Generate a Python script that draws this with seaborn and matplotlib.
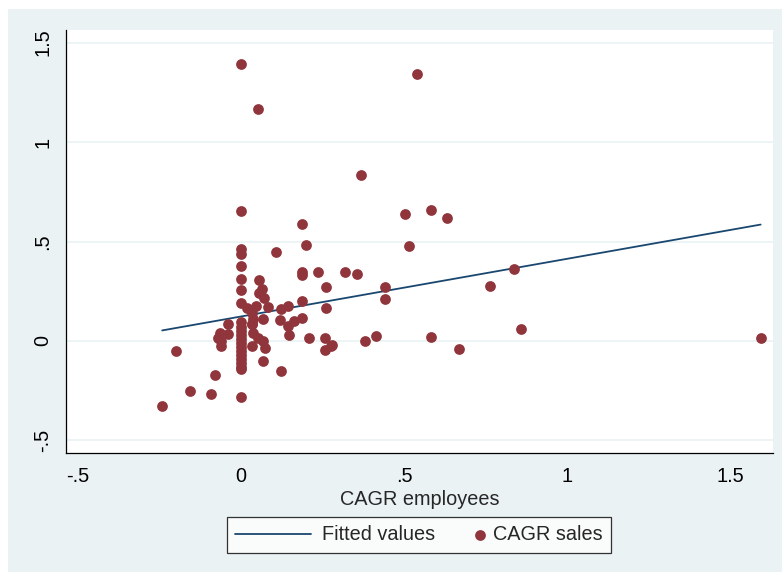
import numpy as np
import pandas as pd
import matplotlib
matplotlib.use("Agg")
import matplotlib.pyplot as plt
import seaborn as sns
from matplotlib.patches import Rectangle
from matplotlib.legend_handler import HandlerLine2D, HandlerPathCollection
from matplotlib.collections import PathCollection
from matplotlib.lines import Line2D

# CAGR employees (x) and CAGR sales (y)
emp = [0.0, 0.051, 0.541, 0.0, 0.188, 0.367, 0.502, 0.584, 0.632,
       0.318, 0.357, 0.515, 0.441, 0.441, 0.765, 0.836, 0.859, 0.379,
       0.414, 0.584, 0.670, 0.280, 1.594,
       0.2, 0.107, 0.0, 0.0, 0.0, 0.0, 0.0, 0.0,
       0.056, 0.064, 0.056, 0.069, 0.046, 0.084, 0.017, 0.033, 0.038, 0.067,
       0.123, 0.145, 0.12, 0.164, 0.188, 0.143, 0.148, 0.21,
       0.188, 0.188, 0.236, 0.26, 0.186, 0.26, 0.259, 0.276, 0.259,
       0.122, 0.068, 0.033, -0.039, -0.065, -0.07, -0.06, -0.06, -0.039,
       0.0, 0.0, 0.0, 0.0, 0.0, 0.0, 0.0, 0.0, 0.0, 0.0, 0.0, 0.0, 0.0, 0.0,
       0.033, 0.038, 0.053, 0.068, 0.074, 0.033,
       -0.198, -0.08, -0.157, -0.093, -0.242]
sales = [1.39, 1.168, 1.341, 0.652, 0.589, 0.833, 0.636, 0.656, 0.619,
         0.348, 0.336, 0.475, 0.272, 0.209, 0.277, 0.361, 0.059, 0.001,
         0.026, 0.018, -0.038, -0.021, 0.016,
         0.48, 0.446, 0.46, 0.435, 0.379, 0.314, 0.255, 0.19,
         0.306, 0.262, 0.242, 0.217, 0.178, 0.172, 0.167, 0.142, 0.112, 0.108,
         0.163, 0.178, 0.103, 0.101, 0.117, 0.074, 0.029, 0.014,
         0.348, 0.334, 0.348, 0.272, 0.2, 0.165, 0.016, -0.023, -0.046,
         -0.152, -0.101, 0.083, 0.086, 0.041, 0.016, 0.0, -0.026, 0.033,
         0.093, 0.07, 0.05, 0.03, 0.01, -0.01, -0.03, -0.05, -0.07, -0.09,
         -0.11, -0.13, -0.143, -0.282,
         -0.026, 0.041, 0.016, 0.0, -0.034, 0.083,
         -0.051, -0.172, -0.252, -0.264, -0.328]

# fitted line end points
fit_x = [-0.242, 1.594]
fit_y = [0.053, 0.585]

ticks = [-0.5, 0, 0.5, 1, 1.5]
tick_labels = ["-.5", "0", ".5", "1", "1.5"]

df = pd.DataFrame({"emp": emp, "sales": sales})
fit = pd.DataFrame({"x": fit_x, "y": fit_y})

sns.set_style("white")
plt.rcParams["font.family"] = ["Liberation Sans", "DejaVu Sans"]
FS = 14.3


class LongLine(HandlerLine2D):
    # longer handle for the fitted line only
    def legend_artist(self, legend, orig_handle, fontsize, handlebox):
        handlebox.width = 3.8 * fontsize
        return super().legend_artist(legend, orig_handle, fontsize, handlebox)


class RightDot(HandlerPathCollection):
    # dot sits at the right end of its handle box
    def get_xdata(self, legend, xdescent, ydescent, width, height, fontsize):
        x = [-xdescent + width - 2]
        return x, x


bg = "#EAF2F3"
fig = plt.figure(figsize=(7.82, 5.72), dpi=100)
fig.patches.append(Rectangle((8 / 782, 0), 1, 1 - 9 / 572, transform=fig.transFigure,
                             facecolor=bg, edgecolor="none", zorder=-10))
ax = fig.add_axes([66 / 782, 1 - 453 / 572, 707 / 782, 423 / 572])

sns.lineplot(data=fit, x="x", y="y", color="#1A476F", lw=1.3, ax=ax,
             label="Fitted values", zorder=2)
sns.scatterplot(data=df, x="emp", y="sales", color="#90353B", s=60,
                linewidth=0, ax=ax, label="CAGR sales", zorder=3)

ax.set_xlim(-0.537, 1.632)
ax.set_ylim(-0.563, 1.563)
ax.set_xticks(ticks)
ax.set_xticklabels(tick_labels)
ax.set_yticks(ticks)
ax.set_yticklabels(tick_labels, rotation=90, va="center")
ax.grid(axis="y", color=bg, lw=1.2)
ax.set_axisbelow(True)
for s in ["top", "right"]:
    ax.spines[s].set_visible(False)
for s in ["left", "bottom"]:
    ax.spines[s].set_color("black")
    ax.spines[s].set_linewidth(0.9)
ax.tick_params(axis="both", direction="out", length=6, width=0.9,
               labelsize=FS, colors="black", pad=4)
ax.set_xlabel("CAGR employees", fontsize=FS, labelpad=3)
ax.set_ylabel("")

ax.get_legend().remove()
h, l = ax.get_legend_handles_labels()
leg = fig.legend(h, l, loc="center", bbox_to_anchor=(419 / 782, 1 - 535 / 572),
                 ncol=2, fontsize=FS, frameon=True, fancybox=False,
                 edgecolor="black", handlelength=0.5, columnspacing=1.9,
                 borderpad=0.42, handletextpad=0.55,
                 handler_map={Line2D: LongLine(), PathCollection: RightDot()})
leg.get_frame().set_linewidth(0.9)

fig.savefig("out.png", dpi=100)
